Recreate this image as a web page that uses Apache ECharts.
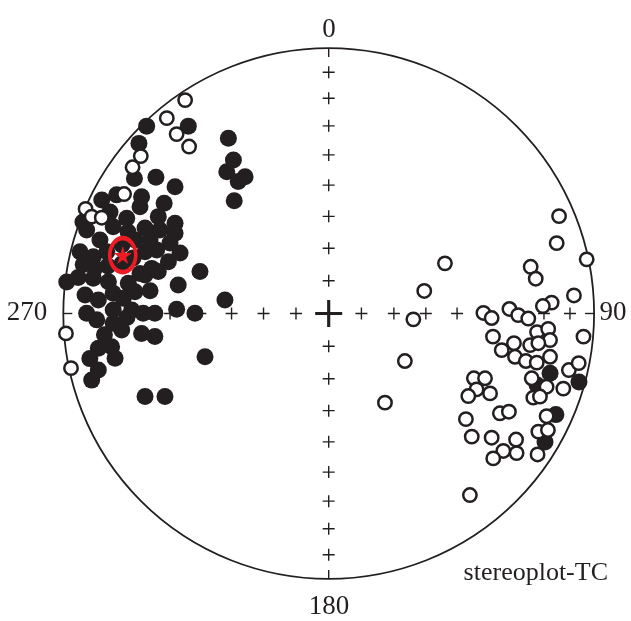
<!DOCTYPE html>
<html>
<head>
<meta charset="utf-8">
<script src="https://cdn.jsdelivr.net/npm/echarts@6/dist/echarts.min.js"></script>
<style>
html, body { margin: 0; padding: 0; background: #fff; }
#chart { width: 631px; height: 621px; }
</style>
</head>
<body>
<div id="chart"></div>
<script>
// equal-area projected directions, units = % of primitive radius (x east, y north)
// filled = lower hemisphere, open = upper hemisphere
var lowerDirs = [
  [-68.6,70.6],[-52.9,70.6],[-37.8,66.0],[-71.5,64.1],[-35.9,57.8],[-38.4,53.4],[-31.5,51.5],[-34.1,49.7],
  [-35.6,42.5],[-73.2,50.9],[-65.1,51.3],[-57.9,47.8],[-79.9,44.7],[-85.5,42.8],[-71.1,40.2],[-64.2,36.5],
  [-57.9,34.0],[-76.1,35.9],[-81.2,32.7],[-91.2,31.5],[-57.9,30.2],[-67.3,27.7],[-86.2,27.7],[-59.8,26.6],
  [-56.0,22.8],[-93.7,23.3],[-88.7,21.4],[-83.6,23.3],[-69.2,23.3],[-64.8,23.9],[-60.4,19.5],[-66.7,17.0],
  [-71.1,15.1],[-48.5,15.8],[-98.7,11.9],[-94.4,13.6],[-88.7,13.3],[-83.0,12.0],[-75.5,11.4],[-69.2,14.5],
  [-64.2,15.8],[-56.7,10.7],[-91.8,7.0],[-86.8,5.1],[-81.2,7.6],[-77.4,5.7],[-73.0,8.2],[-67.3,8.6],
  [-39.1,5.1],[-91.2,0.1],[-87.4,-2.4],[-81.2,1.3],[-74.2,1.3],[-69.9,0.1],[-65.5,0.1],[-57.3,1.6],
  [-50.4,0.1],[-81.2,-3.7],[-78.0,-6.2],[-70.5,-7.5],[-65.5,-8.7],[-86.8,-13.1],[-81.8,-12.5],[-80.5,-16.9],
  [-86.8,-21.3],[-89.3,-25.1],[-46.6,-16.3],[-69.2,-31.3],[-61.7,-31.3],[-77.9,25.8],[-77.9,18.7],[-73.0,27.7],
  [-73.7,20.9],[-83.2,17.9],[-75.6,30.7],[-69.2,32.2],[-92.6,34.5],[-82.4,38.2],[-88.1,17.1],[-63.6,31.5],
  [-84.5,-8.0],[-76.0,-1.5],[-92.5,18.5],[-70.5,44.0],[-62.0,41.5],[-90.0,-17.0],
  [83.4,-22.5],[94.3,-25.8],[85.6,-38.1],[81.5,-48.4],[78.5,-26.9]
];
var upperDirs = [
  [-54.1,80.4],[-61.0,73.6],[-57.3,67.6],[-52.6,62.9],[-70.8,59.3],[-73.9,55.1],[-77.1,45.0],[-91.6,39.4],
  [-89.3,36.5],[-85.5,36.1],[-99.0,-7.5],[-97.1,-20.6],
  [86.8,36.7],[85.9,26.5],[97.2,20.4],[43.8,18.9],[76.1,17.6],[78.0,13.1],[36.0,8.5],[92.4,6.8],
  [84.0,4.1],[80.7,2.8],[68.1,1.7],[58.3,0.2],[61.4,-1.7],[71.4,-0.6],[75.2,-1.9],[31.9,-2.2],
  [61.9,-8.7],[69.8,-11.2],[65.2,-13.8],[70.2,-16.3],[96.0,-8.7],[75.9,-11.9],[78.5,-7.0],[82.7,-5.8],
  [83.4,-10.0],[79.0,-11.2],[74.3,-17.9],[78.4,-18.5],[83.4,-16.3],[28.7,-17.9],[90.5,-21.3],[94.2,-18.7],
  [76.5,-24.4],[82.1,-27.6],[88.4,-28.3],[54.7,-24.4],[58.9,-24.4],[55.7,-28.6],[52.6,-31.1],[60.8,-30.1],
  [77.1,-31.7],[79.6,-31.3],[21.2,-33.6],[51.7,-39.8],[64.5,-37.6],[67.9,-37.0],[82.1,-38.7],[79.0,-44.5],
  [82.6,-43.9],[53.9,-46.4],[61.4,-46.8],[70.6,-47.5],[65.8,-51.8],[62.0,-54.6],[70.8,-52.6],[78.7,-53.1],
  [53.2,-68.4]
];
var meanDir = [-77.6, 22.0];
var incTicks = [80, 70, 60, 50, 40, 30, 20, 10];
var tickDirs = [0, 90, 180, 270];
var dirLabels = ['0', '90', '180', '270'];

var ink = '#231f20';
var red = '#ed1c24';
var serif = "'Liberation Serif', 'Times New Roman', serif";

// equal-area radius for an inclination
function eqArea(inc) {
  return 100 * Math.SQRT2 * Math.sin((90 - inc) / 2 * Math.PI / 180);
}
var crossData = [];
tickDirs.forEach(function (d) {
  incTicks.forEach(function (inc) {
    var r = eqArea(inc), a = d * Math.PI / 180;
    crossData.push([r * Math.sin(a), r * Math.cos(a)]);
  });
});

var plus = 'path://M5.3,0h1.4v5.3h5.3v1.4h-5.3v5.3h-1.4v-5.3h-5.3v-1.4h5.3z';
var star = 'path://M50,0L61,35L98,35L68,57L79,91L50,70L21,91L32,57L2,35L39,35Z';

var chart = echarts.init(document.getElementById('chart'));
chart.setOption({
  animation: false,
  backgroundColor: '#fff',
  grid: { left: 63.3, top: 48.1, width: 530.8, height: 530.8 },
  xAxis: { type: 'value', min: -100, max: 100, show: false },
  yAxis: { type: 'value', min: -100, max: 100, show: false },
  graphic: [
    { type: 'text', x: 329, y: 30, style: { text: dirLabels[0], font: '27px ' + serif, fill: ink, align: 'center', verticalAlign: 'middle' } },
    { type: 'text', x: 613, y: 313, style: { text: dirLabels[1], font: '27px ' + serif, fill: ink, align: 'center', verticalAlign: 'middle' } },
    { type: 'text', x: 329, y: 607, style: { text: dirLabels[2], font: '27px ' + serif, fill: ink, align: 'center', verticalAlign: 'middle' } },
    { type: 'text', x: 27, y: 313, style: { text: dirLabels[3], font: '27px ' + serif, fill: ink, align: 'center', verticalAlign: 'middle' } },
    { type: 'text', x: 608, y: 573, style: { text: 'stereoplot-TC', font: '26px ' + serif, fill: ink, align: 'right', verticalAlign: 'middle' } }
  ],
  series: [
    {
      type: 'custom',
      silent: true,
      data: [[0, 0]],
      renderItem: function (params, api) {
        var c = api.coord([0, 0]);
        var r = api.size([100, 100])[0];
        var t = 9;
        var st = { stroke: ink, lineWidth: 1.4 };
        return {
          type: 'group',
          children: [
            { type: 'circle', shape: { cx: c[0], cy: c[1], r: r }, style: { fill: 'none', stroke: ink, lineWidth: 1.8 } },
            { type: 'line', shape: { x1: c[0], y1: c[1] - r, x2: c[0], y2: c[1] - r + t }, style: st },
            { type: 'line', shape: { x1: c[0], y1: c[1] + r, x2: c[0], y2: c[1] + r - t }, style: st },
            { type: 'line', shape: { x1: c[0] - r, y1: c[1], x2: c[0] - r + t, y2: c[1] }, style: st },
            { type: 'line', shape: { x1: c[0] + r, y1: c[1], x2: c[0] + r - t, y2: c[1] }, style: st }
          ]
        };
      }
    },
    {
      type: 'scatter', silent: true, symbol: plus, symbolSize: 12,
      itemStyle: { color: ink, opacity: 1 }, data: crossData
    },
    {
      type: 'scatter', silent: true, symbol: plus, symbolSize: 27,
      itemStyle: { color: ink, opacity: 1 }, data: [[0, 0]]
    },
    {
      type: 'scatter', silent: true, symbol: 'circle', symbolSize: 17,
      itemStyle: { color: ink, opacity: 1 }, data: lowerDirs
    },
    {
      type: 'scatter', silent: true, symbol: 'circle', symbolSize: 13.4,
      itemStyle: { color: '#fff', borderColor: ink, borderWidth: 2.5, opacity: 1 }, data: upperDirs
    },
    {
      type: 'scatter', silent: true, symbol: 'circle', symbolSize: [26, 34],
      itemStyle: { color: 'transparent', borderColor: red, borderWidth: 4.2, opacity: 1 }, data: [meanDir]
    },
    {
      type: 'scatter', silent: true, symbol: star, symbolSize: 18,
      itemStyle: { color: red, opacity: 1 }, data: [meanDir]
    }
  ]
});
</script>
</body>
</html>
